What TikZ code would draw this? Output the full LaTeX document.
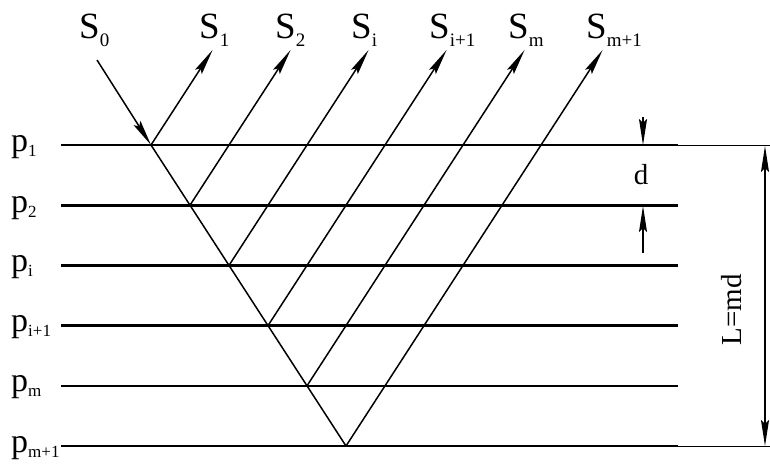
\documentclass[tikz,border=0pt]{standalone}
\usepackage{fontspec}
\setmainfont{Liberation Serif}
\usetikzlibrary{arrows.meta}
\newcommand\ssub[1]{\raisebox{-8pt}{\fontsize{19}{19}\selectfont #1}}
\newcommand\psub[1]{\raisebox{-5pt}{\fontsize{17}{17}\selectfont #1}}
\begin{document}
\begin{tikzpicture}[x=1pt,y=-1pt,
  layer/.style={line width=2.6pt},
  ray/.style={line width=1.5pt},
  thinline/.style={line width=1pt},
  dimline/.style={line width=1.3pt},
  tip/.style={Stealth[length=26pt,width=8pt,inset=4pt]},
  arr/.style={-{Stealth[length=26pt,width=8pt,inset=4pt]}},
  slab/.style={anchor=base west,inner sep=0pt,font=\fontsize{37}{37}\selectfont},
  plab/.style={anchor=base west,inner sep=0pt,font=\fontsize{34}{34}\selectfont},
  dlab/.style={inner sep=0pt,font=\fontsize{29}{29}\selectfont}]
\useasboundingbox (0,0) rectangle (770,463);
% reflection points, layer ends, ray tips
\foreach \k in {0,...,5}{
  \coordinate (r\k) at ({151+39*\k},{145+60.2*\k});
  \coordinate (l\k) at (61,{145+60.2*\k});
  \coordinate (e\k) at (678,{145+60.2*\k});
  \coordinate (t\k) at ({151+39*\k+0.648*(145+60.2*\k-50)},50);
}
% layers
\foreach \k in {0,...,5}{
  \draw[layer] (l\k) -- (e\k);
}
% thin extension lines
\coordinate (x0) at (770,145);
\coordinate (x5) at (770,{145+60.2*5});
\draw[thinline] (e0) -- (x0);
\draw[thinline] (e5) -- (x5);
% incident ray
\coordinate (s0) at (97,60);
\draw[ray,arr] (s0) -- (r0);
\draw[ray] (r0) -- (r5);
% reflected rays
\foreach \k in {0,...,5}{
  \draw[ray,arr] (r\k) -- (t\k);
}
% top labels
\node[slab] (S0) at (79,38) {S\ssub{0}};
\node[slab] (S1) at (199,38) {S\ssub{1}};
\node[slab] (S2) at (275,38) {S\ssub{2}};
\node[slab] (Si) at (351,38) {S\ssub{i}};
\node[slab] (Si1) at (429,38) {S\ssub{i+1}};
\node[slab] (Sm) at (508,38) {S\ssub{m}};
\node[slab] (Sm1) at (586,38) {S\ssub{m+1}};
% left labels
\node[plab] (P1) at (11,151) {p\psub{1}};
\node[plab] (P2) at (11,212) {p\psub{2}};
\node[plab] (Pi) at (11,271) {p\psub{i}};
\node[plab] (Pi1) at (11,331) {p\psub{i+1}};
\node[plab] (Pm) at (11,391) {p\psub{m}};
\node[plab] (Pm1) at (11,452) {p\psub{m+1}};
% d dimension
\coordinate (da) at (643,117);
\coordinate (db) at (643,145);
\coordinate (dc) at (643,253);
\coordinate (dd) at (643,206);
\draw[dimline,arr] (da) -- (db);
\draw[dimline,arr] (dc) -- (dd);
\node[dlab] (d) at (641,175) {d};
% L dimension
\coordinate (La) at (765,146);
\coordinate (Lb) at (765,446);
\draw[dimline,{Stealth[length=26pt,width=8pt,inset=4pt]}-{Stealth[length=26pt,width=8pt,inset=4pt]}] (La) -- (Lb);
\node[dlab,rotate=90] (L) at (732,310) {L=md};
\end{tikzpicture}
\end{document}
